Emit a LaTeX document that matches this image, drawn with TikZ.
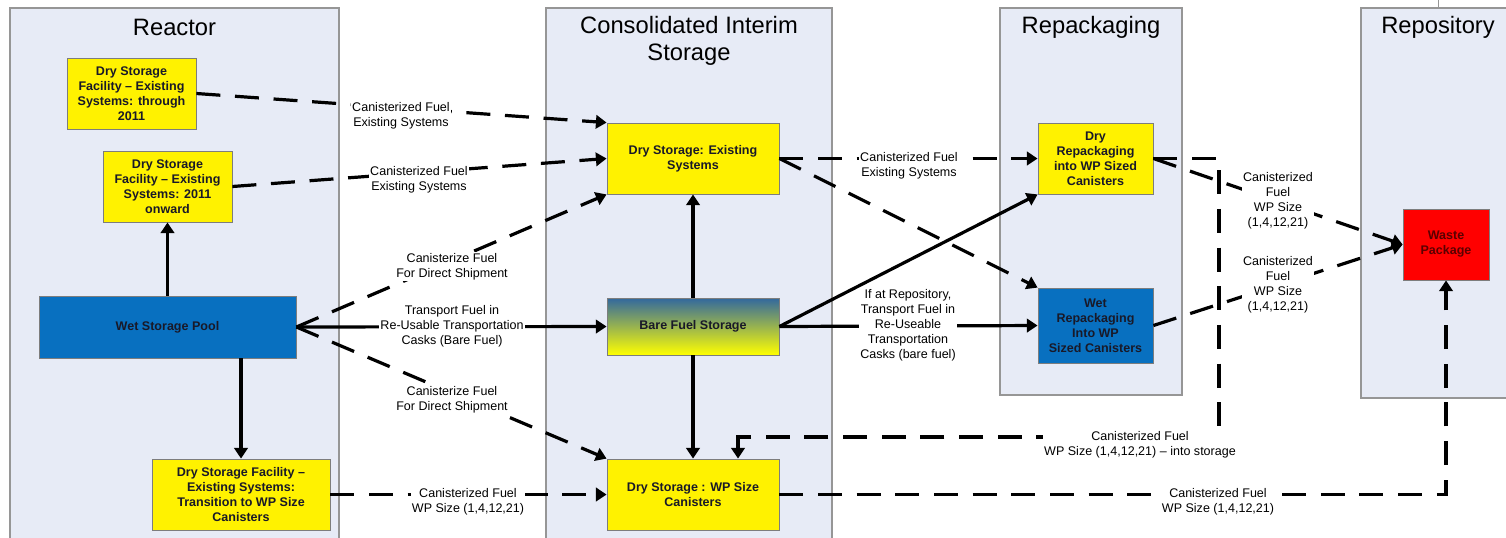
\documentclass[tikz,border=0pt]{standalone}
\usepackage{fontspec}
\setmainfont{Liberation Sans}
\usetikzlibrary{arrows.meta}

\definecolor{panelfill}{RGB}{231,235,246}
\definecolor{paneldraw}{RGB}{150,150,150}
\definecolor{boxdraw}{RGB}{125,125,125}
\definecolor{wetblue}{RGB}{8,112,192}
\definecolor{baretop}{RGB}{50,104,158}
\definecolor{baremid}{RGB}{175,185,60}
\definecolor{boxtext}{RGB}{25,25,40}
\definecolor{wptext}{RGB}{90,0,0}

\tikzset{
  panel/.style={draw=paneldraw, fill=panelfill, line width=0.8pt},
  paneltitle/.style={font=\fontsize{17.8}{20.25}\selectfont, align=center, inner sep=0pt},
  stage/.style={draw=boxdraw, line width=0.6pt, align=center, inner sep=1pt, text=boxtext,
    font=\bfseries\fontsize{9.4}{11.25}\selectfont},
  drybox/.style={stage, fill=yellow},
  wetbox/.style={stage, fill=wetblue},
  flowlabel/.style={fill=white, align=center, inner sep=1pt, font=\fontsize{9.4}{11.25}\selectfont},
  flow/.style={line width=2.4pt, -{Triangle[length=8pt,width=10pt]}},
  caskflow/.style={flow, dash pattern=on 18pt off 11pt},
}

\begin{document}
\begin{tikzpicture}[x=0.75pt,y=0.75pt,yscale=-1,xscale=1]
\clip (0,0) rectangle (1506,537);

%Panels
\draw[panel] (10,8) rectangle (339,545);
\draw[panel] (546,8) rectangle (832,545);
\draw[panel] (1000,8) rectangle (1182,395);
\draw[panel] (1361,8) rectangle (1515,398);
\draw[paneldraw, line width=0.6pt] (1438,0) -- (1438,8);

\node[paneltitle] (reactorT) at (174.5,27.5) {Reactor};
\node[paneltitle] (cisT) at (689,41) {Consolidated Interim\\Storage};
\node[paneltitle] (repackT) at (1091,27.5) {Repackaging};
\node[paneltitle] (reposT) at (1438,27.5) {Repository};

%Reactor
\node[drybox, minimum width=96.75pt, minimum height=53.25pt] (dryA) at (131.5,93.5) {Dry Storage\\Facility -- Existing\\Systems: through\\2011};
\node[drybox, minimum width=96.75pt, minimum height=53.25pt] (dryB) at (167.5,186.5) {Dry Storage\\Facility -- Existing\\Systems: 2011\\onward};
\node[wetbox, minimum width=192.75pt, minimum height=46.5pt] (pool) at (167.5,327) {Wet Storage Pool};
\node[drybox, minimum width=133.5pt, minimum height=53.25pt] (dryC) at (241,494.5) {Dry Storage Facility --\\Existing Systems:\\Transition to WP Size\\Canisters};

%Consolidated interim storage
\node[drybox, minimum width=129pt, minimum height=53.25pt] (cisDry) at (693,158.5) {Dry Storage: Existing\\Systems};
\node[stage, top color=baretop, middle color=baremid, bottom color=yellow, minimum width=129pt, minimum height=42.75pt] (cisBare) at (693,326.5) {Bare Fuel Storage};
\node[drybox, minimum width=129pt, minimum height=53.25pt] (cisWP) at (693,494.5) {Dry Storage : WP Size\\Canisters};

%Repackaging
\node[drybox, minimum width=86.25pt, minimum height=53.25pt] (repDry) at (1095.5,158.5) {Dry\\Repackaging\\into WP Sized\\Canisters};
\node[wetbox, minimum width=86.25pt, minimum height=56.25pt] (repWet) at (1095.5,325.5) {Wet\\Repackaging\\Into WP\\Sized Canisters};

%Repository
\node[stage, fill=red, text=wptext, minimum width=64.5pt, minimum height=53.25pt] (wp) at (1446,244.5) {Waste\\Package};

\coordinate (turnA) at (1219,437);
\coordinate (turnB) at (738,437);

%Solid flows
\draw[flow] (pool.north) -- (dryB.south);
\draw[flow] (dryC.north |- pool.south) -- (dryC.north);
\draw[flow] (pool.east) -- (cisBare.west);
\draw[flow] (cisBare.north) -- (cisDry.south);
\draw[flow] (cisBare.south) -- (cisWP.north);
\draw[flow] (cisBare.east) -- (repDry.south west);
\draw[flow] (cisBare.east) -- (repWet.west);

%Dashed flows
\draw[caskflow] (dryA.east) -- (cisDry.north west);
\draw[caskflow] (dryB.east) -- (cisDry.west);
\draw[caskflow] (pool.east) -- (cisDry.south west);
\draw[caskflow] (pool.east) -- (cisWP.north west);
\draw[caskflow] (dryC.east) -- (cisWP.west);
\draw[caskflow] (cisDry.east) -- (repDry.west);
\draw[caskflow] (cisDry.east) -- (repWet.north west);
\draw[caskflow] (repDry.east) -- (wp.west);
\draw[caskflow] (repWet.east) -- (wp.west);
\draw[caskflow] (repDry.east) -| (turnA) -- (turnB) -- (turnB |- cisWP.north);
\draw[caskflow] (cisWP.east) -| (wp.south);

%Labels
\node[flowlabel] (lblA) at (401,115.5) {Canisterized Fuel\\Existing Systems};
\node[flowlabel] (lblB) at (419,179.5) {Canisterized Fuel\\Existing Systems};
\node[flowlabel] (lblC) at (452,266.5) {Canisterize Fuel\\For Direct Shipment};
\node[flowlabel] (lblD) at (452,326) {Transport Fuel in\\Re-Usable Transportation\\Casks (Bare Fuel)};
\node[flowlabel] (lblE) at (452,400) {Canisterize Fuel\\For Direct Shipment};
\node[flowlabel] (lblF) at (468,501.5) {Canisterized Fuel\\WP Size (1,4,12,21)};
\node[flowlabel] (lblG) at (909,165.5) {Canisterized Fuel\\Existing Systems};
\node[flowlabel] (lblH) at (908,325.5) {If at Repository,\\Transport Fuel in\\Re-Useable\\Transportation\\Casks (bare fuel)};
\node[flowlabel] (lblI) at (1278,200.5) {Canisterized\\Fuel\\WP Size\\(1,4,12,21)};
\node[flowlabel] (lblJ) at (1278,284.5) {Canisterized\\Fuel\\WP Size\\(1,4,12,21)};
\node[flowlabel] (lblK) at (1140,444.5) {Canisterized Fuel\\WP Size (1,4,12,21) -- into storage};
\node[flowlabel] (lblL) at (1218,501.5) {Canisterized Fuel\\WP Size (1,4,12,21)};
\end{tikzpicture}
\end{document}
